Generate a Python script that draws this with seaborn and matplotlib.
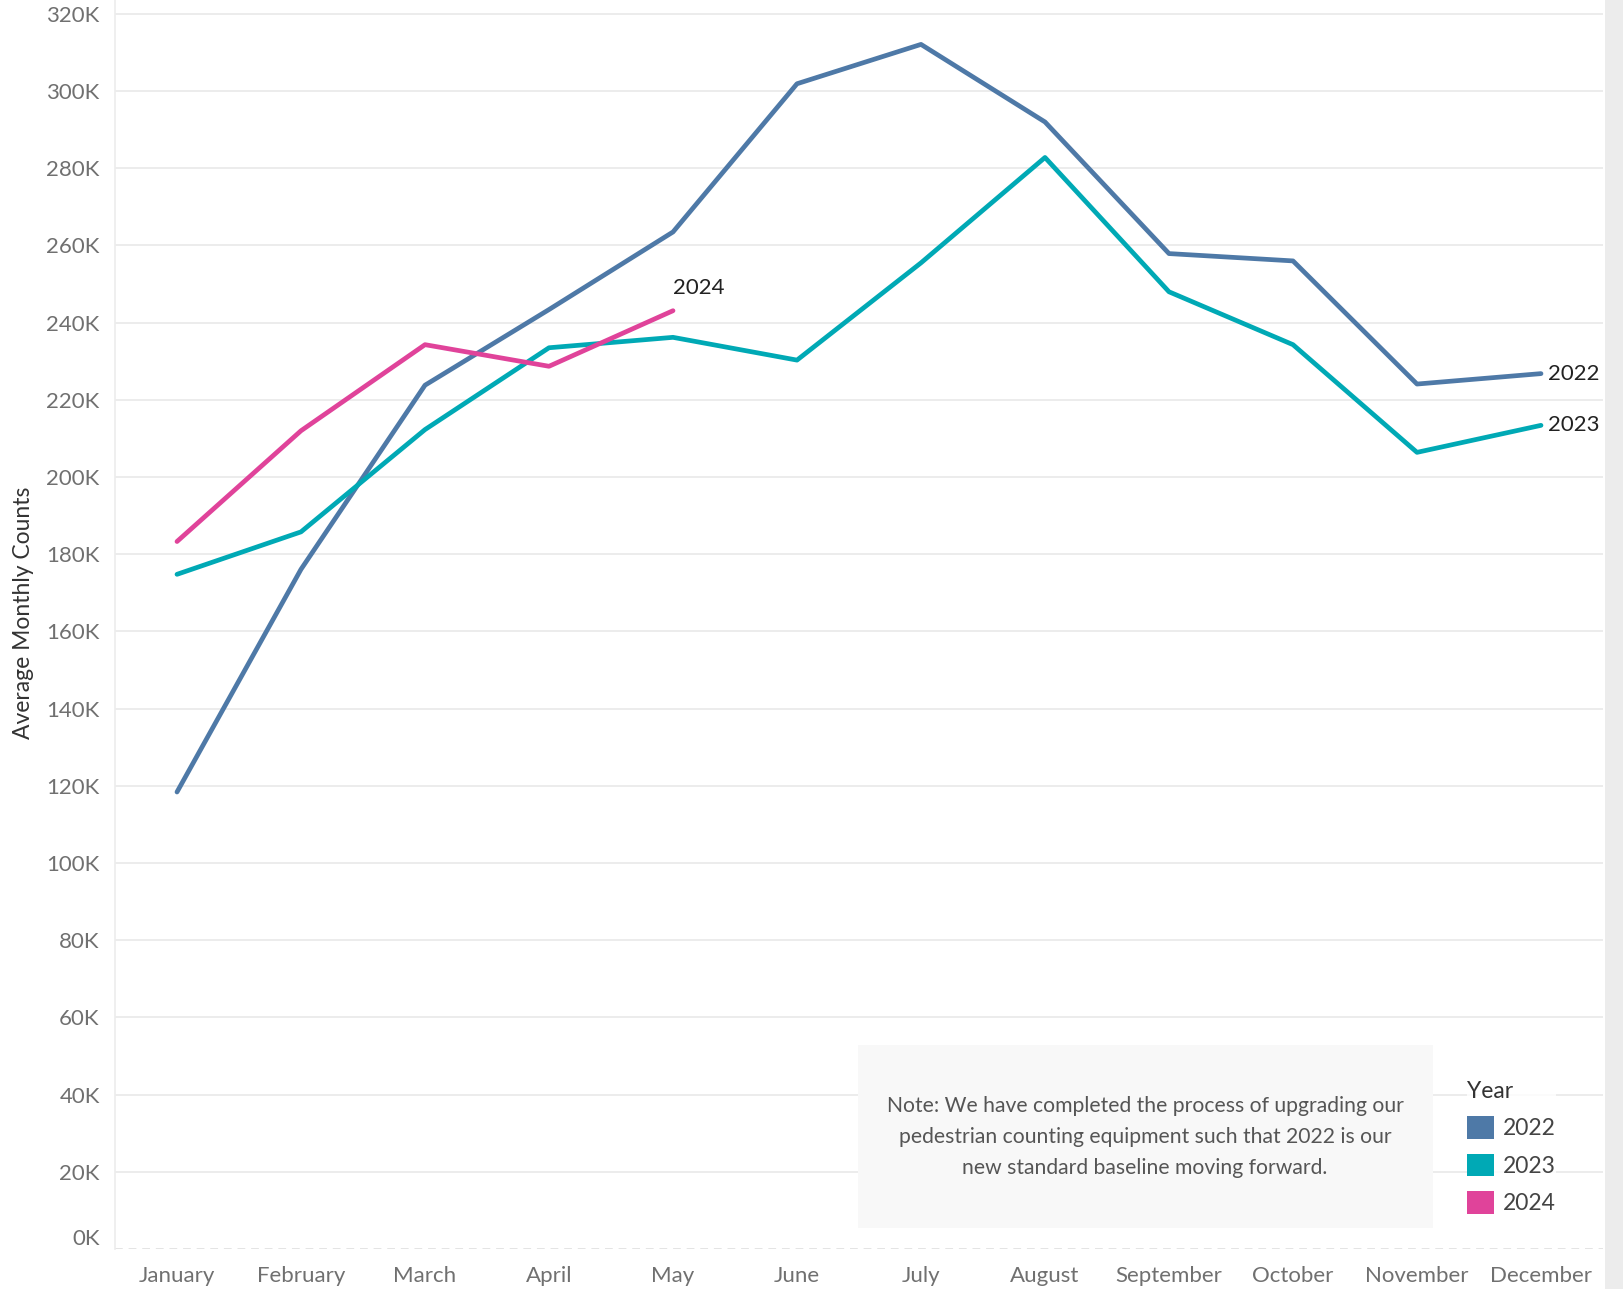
import matplotlib
matplotlib.use("Agg")
import matplotlib.pyplot as plt
import matplotlib.patches as mpatches
import seaborn as sns
import pandas as pd

# ---------------- data ----------------
months = ["January", "February", "March", "April", "May", "June",
          "July", "August", "September", "October", "November", "December"]
years = ["2022", "2023", "2024"]
counts_2022 = [118400, 176100, 223800, 243400, 263500, 301900,
               312100, 292000, 257900, 256000, 224100, 226800]
counts_2023 = [174800, 185800, 212300, 233500, 236200, 230300,
               255500, 282800, 248000, 234300, 206400, 213400]
counts_2024 = [183300, 212000, 234300, 228700, 243100]
year_colors = {"2022": "#4e79a7", "2023": "#00a9b5", "2024": "#e0439a"}
y_ticks = list(range(0, 320001, 20000))
y_tick_labels = [f"{v // 1000}K" for v in y_ticks]
note_text = ("Note: We have completed the process of upgrading our\n"
             "pedestrian counting equipment such that 2022 is our\n"
             "new standard baseline moving forward.")

rows = []
for yr, vals in zip(years, [counts_2022, counts_2023, counts_2024]):
    for i, v in enumerate(vals):
        rows.append({"MonthIdx": i, "Month": months[i], "Year": yr, "Counts": v})
df = pd.DataFrame(rows)

# ---------------- style ----------------
sns.set_style("white")
plt.rcParams["font.family"] = ["Lato", "DejaVu Sans"]

W, H = 1623, 1289
fig = plt.figure(figsize=(W / 100, H / 100), dpi=100)
ax_left, ax_right, ax_bottom, ax_top = 115, 1603, 1249, 0
ax = fig.add_axes([ax_left / W, (H - ax_bottom) / H,
                   (ax_right - ax_left) / W, (ax_bottom - ax_top) / H])

sns.lineplot(data=df, x="MonthIdx", y="Counts", hue="Year",
             palette=year_colors, linewidth=3.4, legend=False, ax=ax,
             errorbar=None, sort=True)
for line in ax.get_lines():
    line.set_solid_capstyle("round")

ax.set_xlim(-0.5, 11.5)
ax.set_ylim(0, 323600)

# y axis
ax.set_yticks(y_ticks)
ax.set_yticklabels(y_tick_labels)
ax.tick_params(axis="y", length=0, pad=11, labelsize=16, labelcolor="#707070")
ax.yaxis.grid(True, color="#ececec", linewidth=1.4)
gl = ax.get_ygridlines()
gl[0].set_linestyle((0, (4, 3)))
gl[0].set_color("#e4e4e4")
ax.get_yticklabels()[0].set_va("bottom")
ax.set_axisbelow(True)

# x axis
ax.set_xticks(range(len(months)))
ax.set_xticklabels(months)
ax.set_xticks([i - 0.5 for i in range(len(months) + 1)], minor=True)
ax.tick_params(axis="x", which="major", length=0, pad=12, labelsize=16,
               labelcolor="#707070")
ax.tick_params(axis="x", which="minor", length=7, width=1, color="#e2e2e2",
               direction="out")
ax.xaxis.grid(False)
ax.set_xlabel("")

for s in ["top", "right", "bottom"]:
    ax.spines[s].set_visible(False)
ax.spines["left"].set_color("#ececec")
ax.spines["left"].set_linewidth(1.2)

ax.set_ylabel("Average Monthly Counts", fontsize=16.5, color="#333333")
ax.yaxis.set_label_coords(-0.0545, 0.509)

# direct labels
ax.annotate("2024", xy=(len(counts_2024) - 1, counts_2024[-1]),
            xytext=(0, 16), textcoords="offset points", ha="left", va="center",
            fontsize=16, color="#222222")
ax.annotate("2022", xy=(11, counts_2022[-1]), xytext=(5, 0),
            textcoords="offset points", ha="left", va="center",
            fontsize=16, color="#222222")
ax.annotate("2023", xy=(11, counts_2023[-1]), xytext=(5, 0),
            textcoords="offset points", ha="left", va="center",
            fontsize=16, color="#222222")

# note box
fig.patches.append(mpatches.Rectangle((858 / W, (H - 1228) / H), 575 / W, 183 / H,
                                      transform=fig.transFigure,
                                      facecolor="#f8f8f8", edgecolor="none",
                                      zorder=5))
fig.text(1145 / W, 1 - 1137 / H, note_text, ha="center", va="center",
         fontsize=15.2, color="#555555", linespacing=1.66, zorder=6)

# legend
handles = [mpatches.Patch(facecolor=year_colors[y], edgecolor="none", label=y)
           for y in years]
leg = fig.legend(handles=handles, title="Year", loc="upper left",
                 bbox_to_anchor=(1467 / W, 1 - 1081 / H), frameon=True,
                 fontsize=16.5, title_fontsize=16.5, handlelength=1.18,
                 handleheight=1.15, labelspacing=0.62, handletextpad=0.4,
                 borderpad=0.0, borderaxespad=0.0, alignment="left")
leg.get_frame().set_facecolor("white")
leg.get_frame().set_edgecolor("none")
for t in leg.get_texts():
    t.set_color("#444444")
leg.get_title().set_color("#333333")

# right scrollbar strip
fig.patches.append(mpatches.Rectangle((1605 / W, 0), 18 / W, 1,
                                      transform=fig.transFigure,
                                      facecolor="#ececec", edgecolor="none"))

fig.savefig("out.png", dpi=100)
